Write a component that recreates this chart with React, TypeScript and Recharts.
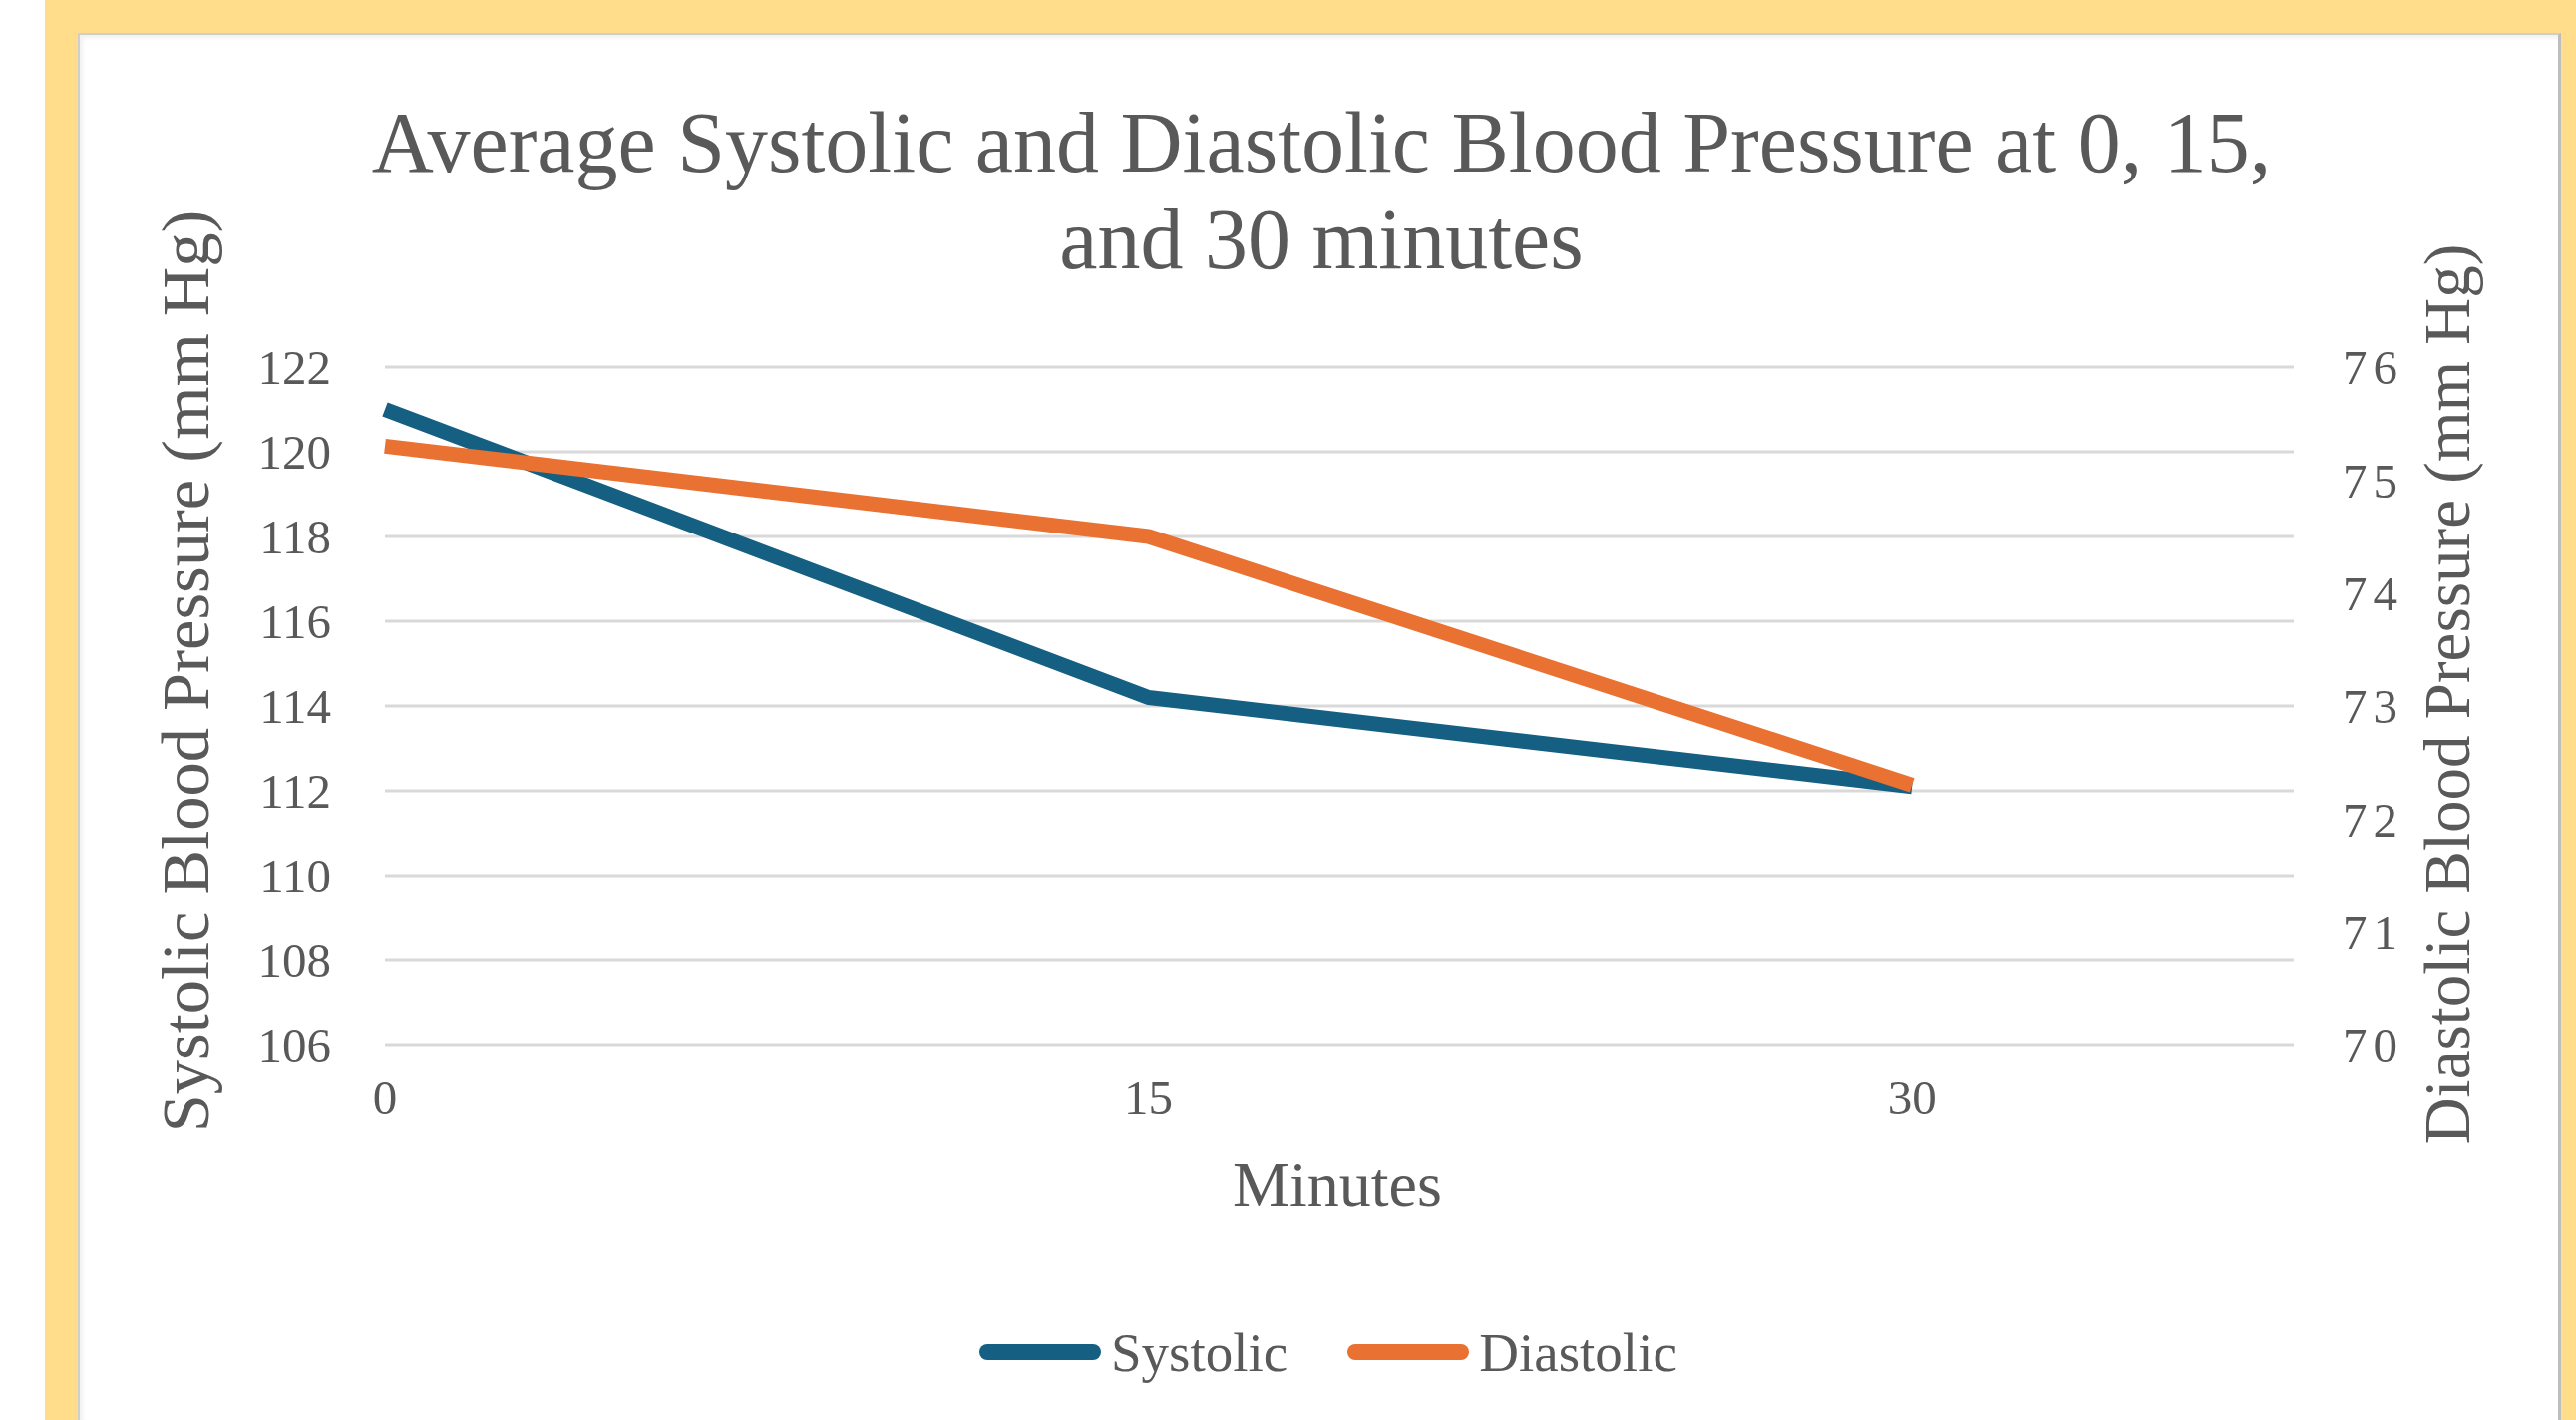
import React from "react";
import { LineChart, Line, XAxis, YAxis, CartesianGrid, Legend } from "recharts";

// values
const minutes = [0, 15, 30];
const systolic = [121.0, 114.2, 112.1];
const diastolic = [75.3, 74.5, 72.3];
const leftTicks = [106, 108, 110, 112, 114, 116, 118, 120, 122];
const rightTicks = [70, 71, 72, 73, 74, 75, 76];
const xTicks = [0, 15, 30];

const data = minutes.map((m, i) => ({ min: m, systolic: systolic[i], diastolic: diastolic[i] }));

const FONT = '"Liberation Serif", "Times New Roman", serif';
const TEXT = "#595959";
const BLUE = "#156082";
const ORANGE = "#E97132";

// panel offset inside the page
const PX = 78;
const PY = 33;
const PW = 2490;
const PH = 1391;

function LegendContent() {
  const items = [
    { name: "Systolic", color: BLUE },
    { name: "Diastolic", color: ORANGE },
  ];
  return (
    <div style={{ display: "flex", alignItems: "center", height: 60, fontFamily: FONT, fontSize: 55, color: TEXT }}>
      {items.map((it, i) => (
        <div key={it.name} style={{ display: "flex", alignItems: "center", marginLeft: i === 0 ? 0 : 60 }}>
          <svg width={122} height={20} style={{ display: "block" }}>
            <line x1={8} y1={10} x2={114} y2={10} stroke={it.color} strokeWidth={16} strokeLinecap="round" />
          </svg>
          <span style={{ marginLeft: 10, lineHeight: 1 }}>{it.name}</span>
        </div>
      ))}
    </div>
  );
}

export default function App() {
  return (
    <div style={{ position: "relative", width: 2583, height: 1424, background: "#FFDD8B", overflow: "hidden" }}>
      <style>{`body{margin:0}`}</style>
      <div style={{ position: "absolute", left: 0, top: 0, width: 45, height: 1424, background: "#ffffff" }} />
      <div
        style={{
          position: "absolute",
          left: PX,
          top: PY,
          width: PW,
          height: PH,
          background: "#ffffff",
          boxSizing: "border-box",
          borderLeft: "2px solid #cfcfcf",
          borderTop: "2px solid #cfcfcf",
          borderRight: "3px solid #bdbdbd",
          boxShadow: "inset 3px 3px 4px rgba(0,0,0,0.06)",
        }}
      >
        <div
          style={{
            position: "absolute",
            left: 0,
            top: 60,
            width: PW,
            textAlign: "center",
            fontFamily: FONT,
            fontSize: 86,
            lineHeight: "97px",
            color: TEXT,
          }}
        >
          Average Systolic and Diastolic Blood Pressure at 0, 15,
          <br />
          and 30 minutes
        </div>

        <div
          style={{
            position: "absolute",
            left: 106,
            top: 638,
            transform: "translate(-50%, -50%) rotate(-90deg)",
            whiteSpace: "nowrap",
            fontFamily: FONT,
            fontSize: 68.5,
            lineHeight: 1,
            color: TEXT,
          }}
        >
          Systolic Blood Pressure (mm Hg)
        </div>
        <div
          style={{
            position: "absolute",
            left: 2374,
            top: 661,
            transform: "translate(-50%, -50%) rotate(-90deg)",
            whiteSpace: "nowrap",
            fontFamily: FONT,
            fontSize: 65,
            lineHeight: 1,
            color: TEXT,
          }}
        >
          Diastolic Blood Pressure (mm Hg)
        </div>
        <div
          style={{
            position: "absolute",
            left: 1261,
            top: 1153,
            transform: "translate(-50%, -50%)",
            whiteSpace: "nowrap",
            fontFamily: FONT,
            fontSize: 64,
            lineHeight: 1,
            color: TEXT,
          }}
        >
          Minutes
        </div>

        <div style={{ position: "absolute", left: 0, top: 0 }}>
          <LineChart
            width={PW - 5}
            height={PH - 2}
            data={data}
            margin={{ top: 333, right: 165, left: 246, bottom: 256 }}
          >
            <CartesianGrid yAxisId="left" horizontal vertical={false} stroke="#d9d9d9" strokeWidth={3} />
            <XAxis
              dataKey="min"
              type="number"
              domain={[0, 37.5]}
              ticks={xTicks}
              axisLine={false}
              tickLine={false}
              tickSize={0}
              tickMargin={34}
              height={60}
              tick={{ fill: TEXT, fontSize: 49, fontFamily: FONT }}
              interval={0}
            />
            <YAxis
              yAxisId="left"
              orientation="left"
              domain={[106, 122]}
              ticks={leftTicks}
              axisLine={false}
              tickLine={false}
              tickSize={0}
              tickMargin={54}
              width={60}
              tick={{ fill: TEXT, fontSize: 49, fontFamily: FONT }}
              interval={0}
            />
            <YAxis
              yAxisId="right"
              orientation="right"
              domain={[70, 76]}
              ticks={rightTicks}
              axisLine={false}
              tickLine={false}
              tickSize={0}
              tickMargin={49}
              width={100}
              tick={{ fill: TEXT, fontSize: 49, fontFamily: FONT, letterSpacing: 6 }}
              interval={0}
            />
            <Legend
              content={() => <LegendContent />}
              wrapperStyle={{ position: "absolute", left: 902, top: 1291, width: "auto", bottom: "auto" }}
            />
            <Line
              yAxisId="left"
              dataKey="systolic"
              name="Systolic"
              stroke={BLUE}
              strokeWidth={15}
              dot={false}
              activeDot={false}
              strokeLinejoin="round"
              isAnimationActive={false}
            />
            <Line
              yAxisId="right"
              dataKey="diastolic"
              name="Diastolic"
              stroke={ORANGE}
              strokeWidth={15}
              dot={false}
              activeDot={false}
              strokeLinejoin="round"
              isAnimationActive={false}
            />
          </LineChart>
        </div>
      </div>
    </div>
  );
}
